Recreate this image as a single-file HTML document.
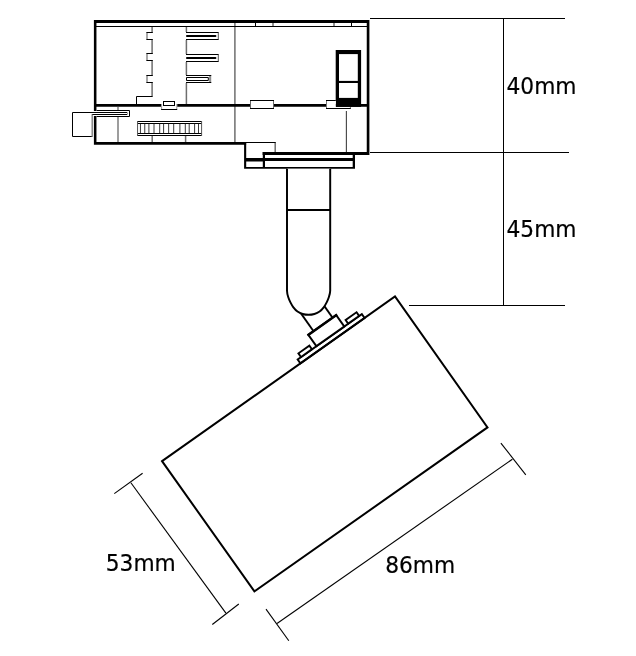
<!DOCTYPE html>
<html>
<head>
<meta charset="utf-8">
<title>Track spotlight dimensions</title>
<style>
html,body{margin:0;padding:0;background:#fff;}
body{width:636px;height:656px;overflow:hidden;position:relative;}
svg{position:absolute;left:0;top:0;display:block;filter:grayscale(1);}
text{font-family:"DejaVu Sans","Liberation Sans",sans-serif;font-size:23px;fill:#000;stroke:#000;stroke-width:0.2px;}
</style>
</head>
<body>
<svg width="636" height="656" viewBox="0 0 636 656">
<rect x="0" y="0" width="636" height="656" fill="#fff"/>

<!-- ===== dimension lines ===== -->
<g stroke="#000" stroke-width="1.1" fill="none">
  <line x1="370" y1="18.5" x2="565" y2="18.5" stroke-width="1"/>
  <line x1="370" y1="152.5" x2="569" y2="152.5" stroke-width="1"/>
  <line x1="409" y1="305.5" x2="565" y2="305.5" stroke-width="1"/>
  <line x1="503.5" y1="18" x2="503.5" y2="305.5" stroke-width="1"/>
  <!-- 86mm -->
  <line x1="277.0" y1="623.5" x2="512.4" y2="459.2"/>
  <line x1="500.9" y1="443.1" x2="525.8" y2="474.8"/>
  <line x1="266" y1="609.1" x2="288.8" y2="640.7"/>
  <!-- 53mm -->
  <line x1="130.9" y1="482.8" x2="225.9" y2="613.1"/>
  <line x1="114.3" y1="493.6" x2="142.6" y2="473.3"/>
  <line x1="212.3" y1="624.5" x2="238.8" y2="604"/>
</g>

<!-- ===== labels ===== -->
<text transform="translate(506.5,93.7) scale(0.945,1)">40mm</text>
<text transform="translate(506.5,236.7) scale(0.945,1)">45mm</text>
<text transform="translate(105.8,570.6) scale(0.945,1)">53mm</text>
<text transform="translate(385.2,572.8) scale(0.945,1)">86mm</text>

<!-- ===== track adapter housing ===== -->
<g id="housing">
  <!-- gray internal lines -->
  <g stroke="#6e6e6e" stroke-width="1.5" fill="none">
    <line x1="234.9" y1="23" x2="234.9" y2="142"/>
    <line x1="273" y1="23" x2="273" y2="26"/>
    <line x1="334" y1="23" x2="334" y2="26"/>
    <path d="M186.4 27 V32 M186.4 40 V54 M186.4 62 V75 M186.4 83 V104"/>
    <line x1="118" y1="107" x2="118" y2="142" stroke="#8c8c8c" stroke-width="1.7"/>
    <line x1="152.2" y1="136" x2="152.2" y2="142"/>
    <line x1="185.6" y1="136" x2="185.6" y2="142"/>
    <line x1="275.2" y1="143" x2="275.2" y2="152"/>
    <!-- notched line -->
    <path d="M152.1 27 V32.5 M152.1 39.5 V53.5 M152.1 60.5 V75.5 M152.1 82.5 V96.5"/>
    <path d="M147 32.5 V39.5 M147 53.5 V60.5 M147 75.5 V82.5" stroke-width="1.2"/>
  </g>
  <g stroke="#000" stroke-width="1" fill="none">
    <path d="M146.4 32.5 H152.8 M146.4 39.5 H152.8"/>
    <path d="M146.4 53.5 H152.8 M146.4 60.5 H152.8"/>
    <path d="M146.4 75.5 H152.8 M146.4 82.5 H152.8"/>
    <path d="M152.6 96.5 H136.5 V104"/>
    <line x1="255.5" y1="23" x2="255.5" y2="26"/>
    <line x1="351.5" y1="23" x2="351.5" y2="26"/>
  </g>
  <line x1="346.35" y1="111" x2="346.35" y2="152" stroke="#222" stroke-width="0.95"/>

  <!-- fingers -->
  <g stroke="#000" stroke-width="1" fill="none">
    <path d="M186 32.5 H218.7 M186 39.5 H218.7"/>
    <path d="M186 54.5 H218.7 M186 61.5 H218.7"/>
    <path d="M186 75.5 H211.3 M186 82.5 H211.3"/>
    <path d="M186.5 77.5 H208.3 V80.5 H186.5 Z"/>
  </g>
  <g stroke="#555" stroke-width="1" fill="none">
    <line x1="218.3" y1="33" x2="218.3" y2="39"/>
    <line x1="218.3" y1="55" x2="218.3" y2="61"/>
  </g>
  <rect x="209.1" y="76" width="2.1" height="6" fill="#8c8c8c"/>
  <rect x="186" y="35" width="30.4" height="2" rx="0.9" fill="#000"/>
  <rect x="186" y="57" width="30.4" height="1.9" rx="0.9" fill="#000"/>

  <!-- thick outline -->
  <path fill="#000" fill-rule="nonzero" d="M94 19.9h275.4v3.1h-275.4z M93.9 20h2.55v91h-2.55z M93.9 116h2.55v28.8h-2.55z M366.75 20h2.65v135h-2.65z M94 104h275.4v2.85h-275.4z M94 141.9h152.3v2.9h-152.3z M244.1 142h2.1v26.8h-2.1z M262.5 152.1h106.9v2.9h-106.9z M262.8 152.1h2.2v16.7h-2.2z M244.1 158h110.9v2.9h-110.9z M244.1 157.9h19v3.7h-19z M244.1 167.1h110.9v1.7h-110.9z M352.7 152.1h2.3v16.7h-2.3z"/>
  <rect x="246" y="142" width="29.8" height="1" fill="#000"/>
  <rect x="96" y="26" width="271" height="1" fill="#000"/>

  <!-- switch -->
  <rect x="335.7" y="50" width="25.4" height="56.9" fill="#000"/>
  <rect x="339" y="54.1" width="18.8" height="26.8" fill="#fff"/>
  <rect x="339" y="83" width="18.8" height="14.9" fill="#fff"/>

  <!-- connectors on mid line -->
  <rect x="250" y="100" width="24" height="9" fill="#fff"/>
  <path d="M250 100.5 H274 M250 108.5 H274" stroke="#000" stroke-width="1" fill="none"/>
  <path d="M250.5 101 V108 M273.5 101 V108" stroke="#666" stroke-width="1" fill="none"/>
  <rect x="161.3" y="103.5" width="15.8" height="5.8" fill="#fff"/>
  <path d="M161.6 104 V109.3 M176.8 104 V109.3" stroke="#999" stroke-width="1" fill="none"/>
  <path d="M161.1 109.5 H177.2" stroke="#000" stroke-width="1" fill="none"/>
  <rect x="163.5" y="101.5" width="11" height="4" fill="#fff" stroke="#000" stroke-width="1"/>
  <rect x="327" y="100.5" width="8.8" height="7.6" fill="#fff"/>
  <path d="M335.8 100.5 H326 M326 108.5 H350.8" stroke="#000" stroke-width="1" fill="none"/>
  <path d="M326.5 101 V108 M350.4 107 V108" stroke="#777" stroke-width="1" fill="none"/>

  <!-- side box + slot -->
  <path d="M96.5 110.5 H129.5 V116.5 H96.5" fill="#fff" stroke="#000" stroke-width="1" stroke-linejoin="round"/>
  <path d="M127.5 113 V114" fill="none" stroke="#999" stroke-width="1"/>
  <path d="M92.2 136.5 H72.5 V112.5 H127.3 M127.3 114.5 H91.9" fill="none" stroke="#000" stroke-width="1"/>
  <line x1="92.2" y1="114.4" x2="92.2" y2="137" stroke="#777" stroke-width="1.3"/>

  <!-- grille -->
  <g id="grille">
    <rect x="137.5" y="121" width="64.2" height="15" fill="#fff"/>
    <path d="M137.2 121.5 H202 M137.2 135.5 H202" stroke="#000" stroke-width="1" fill="none"/>
    <path d="M137.2 123.5 H202 M137.2 133.5 H202" stroke="#000" stroke-width="1" fill="none"/>
    <path d="M137.55 121 V136 M201.6 121 V136" stroke="#555" stroke-width="1" fill="none"/>
    <path d="M140.45 124V133 M144.75 124V133 M148.9 124V133 M154.0 124V133 M159.7 124V133 M163.6 124V133 M168.65 124V133 M173.7 124V133 M179.9 124V133 M185.3 124V133 M189.2 124V133 M194.6 124V133 M198.5 124V133" stroke="#3a3a3a" stroke-width="1" fill="none"/>
  </g>
</g>

<!-- ===== lamp head ===== -->
<g transform="translate(163,460.5) rotate(-35.256)" stroke="#000" fill="#fff" stroke-width="1.9" stroke-linejoin="miter">
  <!-- neck -->
  <line x1="197.6" y1="-19" x2="197.6" y2="-50" stroke-width="1.9"/>
  <line x1="220.9" y1="-19" x2="220.9" y2="-45" stroke-width="2"/>
  <rect x="168.3" y="-4.8" width="78.6" height="4.8" stroke-width="1.9"/>
  <rect x="172.4" y="-9.3" width="13.4" height="4.4" stroke-width="1.9"/>
  <rect x="230.2" y="-9.3" width="13.4" height="4.4" stroke-width="1.9"/>
  <rect x="191.2" y="-18.8" width="34.2" height="14" stroke-width="2"/>
  <line x1="190.2" y1="-18.7" x2="226.4" y2="-18.7" stroke-width="2.4"/>
</g>

<polygon points="162.05,461.15 395,296.5 487.5,427.4 254.4,591.4" fill="none" stroke="#000" stroke-width="2" stroke-linejoin="miter"/>

<!-- ===== stem ===== -->
<path d="M287 168.8 V290.8 C287.05 293 287.6 295.2 288.2 297 C288.76 298.72 289.43 300.38 290.30 302.10 C291.17 303.82 292.20 305.73 293.40 307.30 C294.60 308.87 295.95 310.38 297.50 311.50 C299.05 312.62 300.87 313.45 302.70 314.00 C304.53 314.55 306.57 314.80 308.55 314.80 C310.5 314.80 312.5 314.55 314.4 314.00 C316.2 313.45 318.05 312.62 319.6 311.50 C321.15 310.38 322.5 308.87 323.7 307.30 C324.9 305.73 325.93 303.82 326.8 302.10 C327.67 300.38 328.34 298.72 328.9 297 C329.5 295.2 330.15 293 330.2 290.8 V168.8" fill="#fff" stroke="#000" stroke-width="1.95" stroke-linejoin="round"/>
<line x1="287" y1="210" x2="330.2" y2="210" stroke="#000" stroke-width="1.9"/>
</svg>
</body>
</html>
